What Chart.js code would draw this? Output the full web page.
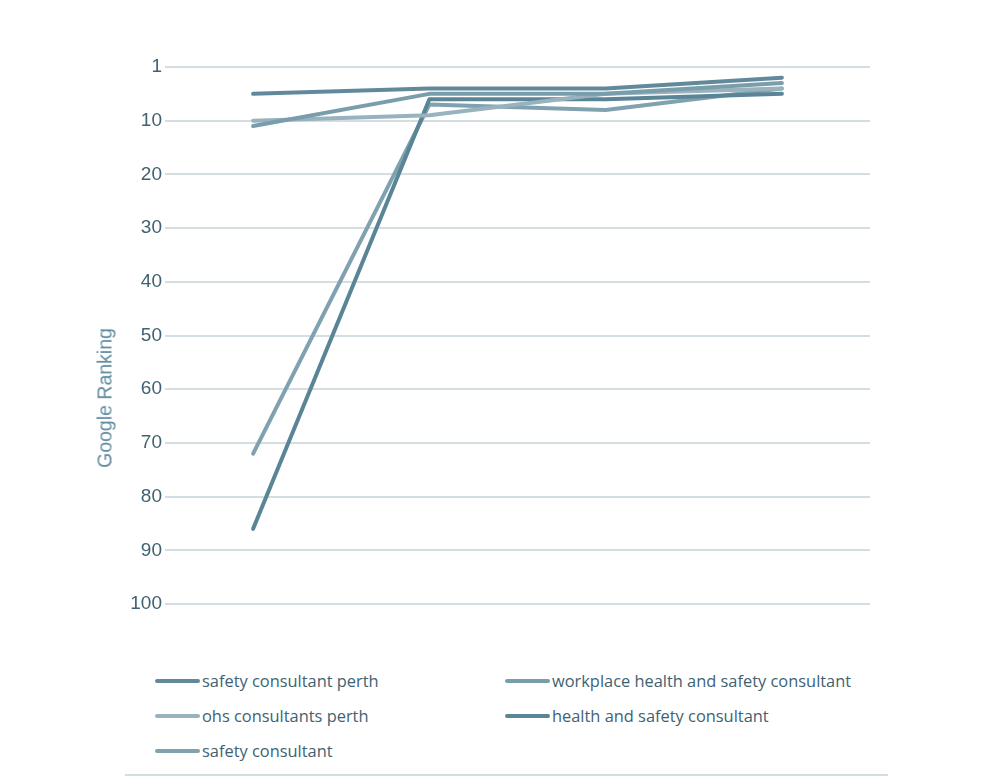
<!DOCTYPE html>
<html>
<head>
<meta charset="utf-8">
<script src="https://cdn.jsdelivr.net/npm/chart.js@4.4.0/dist/chart.umd.min.js"></script>
<style>
  body { margin: 0; background: #fff; }
  .wrap { position: relative; width: 1000px; height: 778px; }
  .chart { position: absolute; left: 0; top: 0; }
  .axisTitle { position: absolute; left: 105px; top: 398px; transform: translate(-50%, -50%) rotate(-90deg); font-family: 'Liberation Sans', Arial, sans-serif; font-size: 19.5px; color: #5f8a9e; white-space: nowrap; }
  .legend { position: absolute; left: 155px; top: 669px; width: 720px; font-family: 'Open Sans', 'Liberation Sans', sans-serif; font-size: 16.4px; color: #3f6272; }
  .legend__item { position: absolute; display: flex; align-items: center; white-space: nowrap; }
  .legend__swatch { width: 45px; height: 4px; border-radius: 2px; margin-right: 2px; }
  .rule { position: absolute; left: 125px; top: 774px; width: 763px; height: 2px; background: #d3dde2; }
</style>
</head>
<body>
<div class="wrap">
  <canvas class="chart" width="1000" height="640"></canvas>
  <div class="axisTitle">Google Ranking</div>
  <div class="legend"></div>
  <div class="rule"></div>
</div>
<script>
(function() {

    let positions = ['P1', 'P2', 'P3', 'P4'];

    let seriesNames = [
      'safety consultant perth',
      'workplace health and safety consultant',
      'ohs consultants perth',
      'health and safety consultant',
      'safety consultant'
    ];

    let safetyConsultantPerth = [5, 4, 4, 2];
    let workplaceHealthSafety = [11, 5, 5, 3];
    let ohsConsultantsPerth = [10, 9, 5, 4];
    let healthSafetyConsultant = [86, 6, 6, 5];
    let safetyConsultant = [72, 7, 8, 4];

    let rankTicks = [0, 10, 20, 30, 40, 50, 60, 70, 80, 90, 100];
    let rankLabels = ['1', '10', '20', '30', '40', '50', '60', '70', '80', '90', '100'];

    let colors = ['#62899b', '#7a9dac', '#98b2be', '#5a8597', '#80a1af'];

    let values = [safetyConsultantPerth, workplaceHealthSafety, ohsConsultantsPerth, healthSafetyConsultant, safetyConsultant];

    let datasets = values.map((data, i) => ({
      label: seriesNames[i],
      data: data,
      borderColor: colors[i],
      backgroundColor: colors[i],
      borderWidth: 4,
      borderCapStyle: 'round',
      borderJoinStyle: 'round',
      pointRadius: 0,
      tension: 0
    }));

    let ctx = document.querySelector('.chart');

    new Chart(ctx, {
      type: 'line',
      data: { labels: positions, datasets: datasets },
      options: {
        responsive: false,
        animation: false,
        layout: { padding: { top: 67, right: 130, bottom: 36, left: 0 } },
        plugins: { legend: { display: false }, tooltip: { enabled: false } },
        scales: {
          x: { display: false, offset: true },
          y: {
            reverse: true,
            min: 0,
            max: 100,
            afterBuildTicks: scale => { scale.ticks = rankTicks.map(v => ({ value: v })); },
            afterFit: scale => { scale.width = 165; },
            border: { display: false },
            grid: { color: '#d3dde2', lineWidth: 2, drawTicks: false },
            ticks: {
              padding: 3,
              color: '#3f6272',
              font: { family: "'Liberation Sans', Arial, sans-serif", size: 19 },
              callback: (v) => rankLabels[rankTicks.indexOf(v)]
            }
          }
        }
      }
    });

    // legend in two columns
    let legend = document.querySelector('.legend');
    let cols = [0, 350];
    seriesNames.forEach((name, i) => {
      let item = document.createElement('div');
      item.className = 'legend__item';
      item.style.left = cols[i % 2] + 'px';
      item.style.top = (Math.floor(i / 2) * 35) + 'px';
      let sw = document.createElement('span');
      sw.className = 'legend__swatch';
      sw.style.background = colors[i];
      let txt = document.createElement('span');
      txt.textContent = name;
      item.appendChild(sw);
      item.appendChild(txt);
      legend.appendChild(item);
    });

})();
</script>
</body>
</html>
